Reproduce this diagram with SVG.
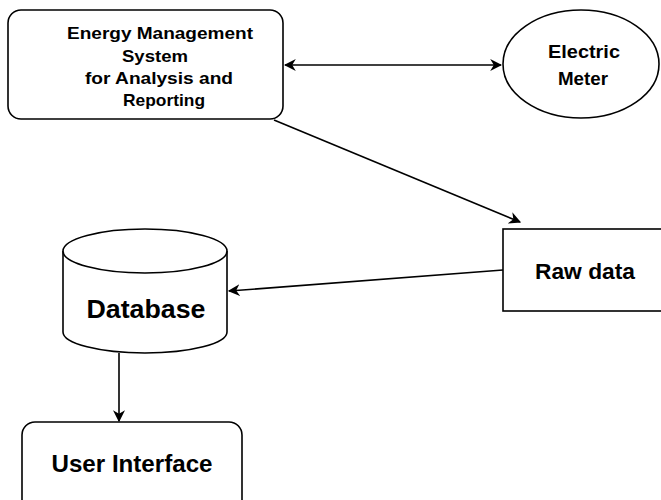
<svg xmlns="http://www.w3.org/2000/svg" width="661" height="500" viewBox="0 0 661 500">
<defs>
<style>
.s{fill:#fff;stroke:#000;stroke-width:1.6}
.t{font-family:"Liberation Sans",Arial,sans-serif;font-weight:bold;fill:#000;text-anchor:middle}
.c{fill:none;stroke:#000;stroke-width:1.6}
</style>
<marker id="ah" viewBox="0 0 10 10" refX="9" refY="5" markerWidth="12" markerHeight="12" markerUnits="userSpaceOnUse" orient="auto-start-reverse">
<path d="M0,0 L10,5 L0,10 L3,5 Z" fill="#000"/>
</marker>
</defs>
<rect width="661" height="500" fill="#fff"/>
<g id="ems">
<rect class="s" x="8" y="10" width="275" height="109" rx="13"/>
<text class="t" font-size="17" x="160" y="39" textLength="186" lengthAdjust="spacingAndGlyphs">Energy Management</text>
<text class="t" font-size="17" x="155" y="62" textLength="66" lengthAdjust="spacingAndGlyphs">System</text>
<text class="t" font-size="17" x="159" y="84" textLength="148" lengthAdjust="spacingAndGlyphs">for Analysis and</text>
<text class="t" font-size="17" x="164" y="106" textLength="82" lengthAdjust="spacingAndGlyphs">Reporting</text>
</g>
<g id="meter">
<ellipse class="s" cx="581" cy="64" rx="78" ry="54"/>
<text class="t" font-size="18" x="584" y="58" textLength="72" lengthAdjust="spacingAndGlyphs">Electric</text>
<text class="t" font-size="18" x="583" y="85" textLength="50" lengthAdjust="spacingAndGlyphs">Meter</text>
</g>
<g id="raw">
<rect class="s" x="503" y="229" width="170" height="82"/>
<text class="t" font-size="22" x="585" y="279" textLength="100" lengthAdjust="spacingAndGlyphs">Raw data</text>
</g>
<g id="db">
<path class="s" d="M63,251 L63,332 A82,21 0 0 0 227,332 L227,251"/>
<ellipse class="s" cx="145" cy="251" rx="82" ry="22"/>
<text class="t" font-size="25" x="146" y="318" textLength="119" lengthAdjust="spacingAndGlyphs">Database</text>
</g>
<g id="ui">
<rect class="s" x="22" y="422" width="220" height="100" rx="13"/>
<text class="t" font-size="24" x="132" y="472" textLength="161" lengthAdjust="spacingAndGlyphs">User Interface</text>
</g>
<g id="connectors">
<line class="c" x1="285" y1="65" x2="501" y2="65" marker-start="url(#ah)" marker-end="url(#ah)"/>
<line class="c" x1="274" y1="120" x2="520" y2="222" marker-end="url(#ah)"/>
<line class="c" x1="503" y1="270" x2="229" y2="291" marker-end="url(#ah)"/>
<line class="c" x1="119" y1="353" x2="119" y2="421" marker-end="url(#ah)"/>
</g>
</svg>
